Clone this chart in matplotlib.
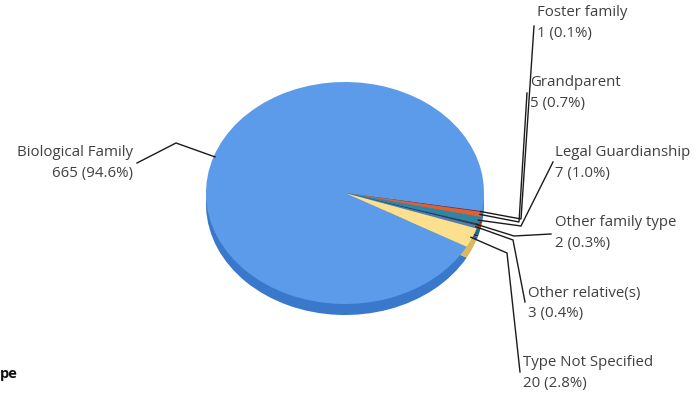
import matplotlib
matplotlib.use("Agg")
import matplotlib.pyplot as plt
import numpy as np

categories = ["Biological Family", "Foster family", "Grandparent", "Legal Guardianship",
              "Other family type", "Other relative(s)", "Type Not Specified"]
counts = [665, 1, 5, 7, 2, 3, 20]
percents = [94.6, 0.1, 0.7, 1.0, 0.3, 0.4, 2.8]
top_colors = ["#5b9bea", "#8b2a1e", "#e0612f", "#2f86a3", "#243d63", "#4a7fb0", "#fde08e"]
side_colors = ["#3a78cc", "#6b1e15", "#b04a22", "#226a82", "#1a2d4a", "#3a6690", "#d8b860"]

W, H = 699, 398
cx, cy, rx, ry, depth = 345, 193, 139, 111, 11

def p2d(px, py):
    return ((px - cx) / rx, (cy - py) / ry)

fig = plt.figure(figsize=(W / 100, H / 100), dpi=100)
ax = fig.add_axes([0, 0, 1, 1])

start = 331.1
ax.pie(counts, colors=side_colors, startangle=start, counterclock=False,
       center=(0, -depth / ry), radius=1, wedgeprops=dict(linewidth=0))
wedges, _ = ax.pie(counts, colors=top_colors, startangle=start, counterclock=False,
                   center=(0, 0), radius=1, wedgeprops=dict(linewidth=0))

ax.set_aspect('auto')
x0, y0 = p2d(0, H)
x1, y1 = p2d(W, 0)
ax.set_xlim(x0, x1)
ax.set_ylim(y0, y1)
ax.axis('off')

# label layout (pixel positions): elbow, line end, text x, text y(first line), ha
layout = [
    ((176, 143), (137, 163), 133, 153, 'right'),
    ((521, 219), (534, 26), 537, 13, 'left'),
    ((519, 222), (527, 93), 530, 83, 'left'),
    ((521, 226), (553, 162), 555, 153, 'left'),
    ((514, 236), (551, 234), 555, 223, 'left'),
    ((513, 240), (525, 302), 528, 293, 'left'),
    ((507, 253), (520, 372), 523, 362, 'left'),
]

fs = 10.8
for w, cat, n, pc, (elb, end, tx, ty, ha) in zip(wedges, categories, counts, percents, layout):
    ang = np.deg2rad((w.theta1 + w.theta2) / 2)
    ax_, ay_ = np.cos(ang) * 0.99, np.sin(ang) * 0.99
    ex, ey = p2d(*elb)
    lx, ly = p2d(*end)
    ax.plot([ax_, ex, lx], [ay_, ey, ly], color="#1a1a1a", lw=1.0, solid_joinstyle='miter')
    t1x, t1y = p2d(tx, ty)
    t2x, t2y = p2d(tx, ty + 21)
    ax.text(t1x, t1y, cat, ha=ha, va='center', fontsize=fs, color="#404040", family="Open Sans")
    ax.text(t2x, t2y, f"{n} ({pc:.1f}%)", ha=ha, va='center', fontsize=fs, color="#404040",
            family="Open Sans")

tx, ty = p2d(0, 374)
ax.text(tx, ty, "pe", ha='left', va='center', fontsize=10.5, fontweight='bold', color="#111111",
        family="Open Sans")

fig.savefig("out.png", dpi=100)
